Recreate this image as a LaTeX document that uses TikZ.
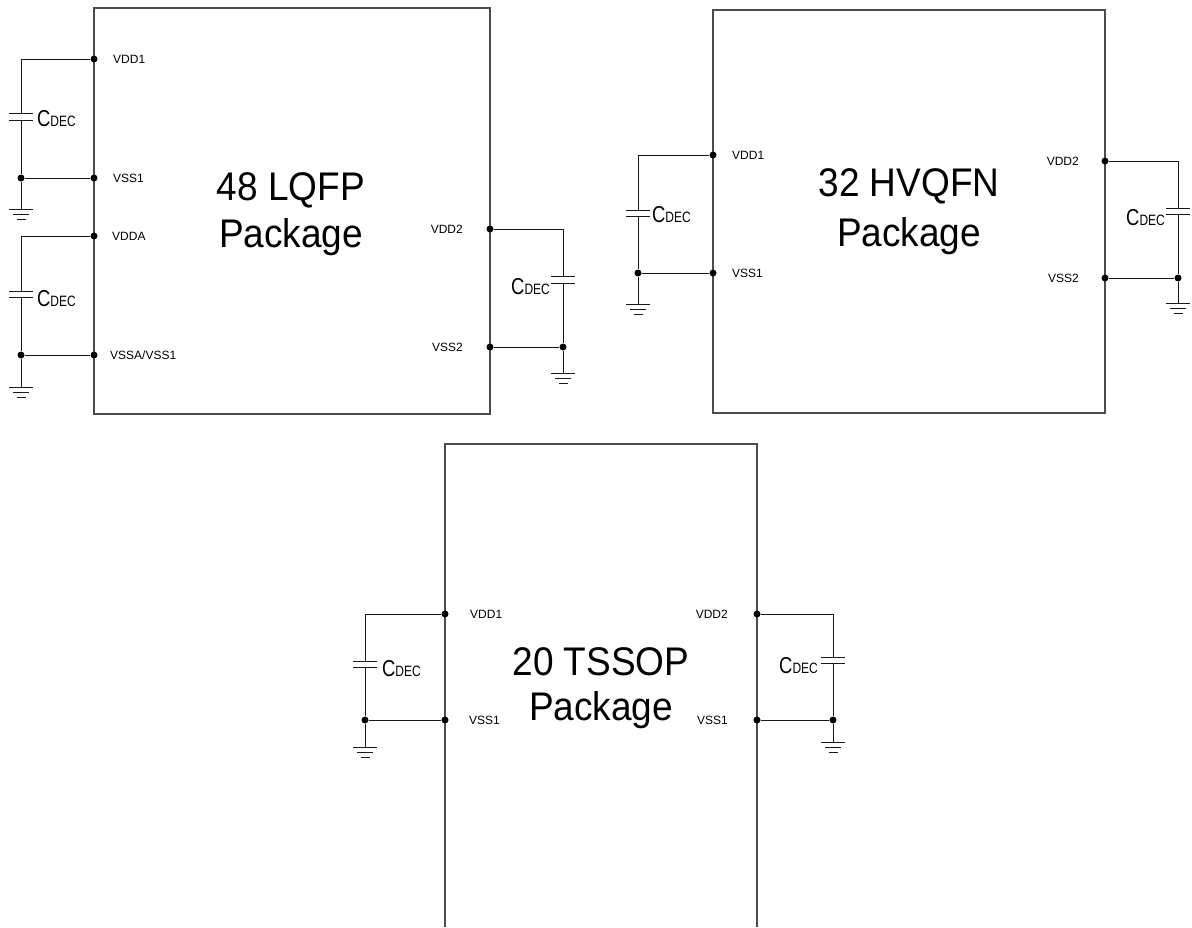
\documentclass[tikz,border=0pt]{standalone}
\usepackage{fontspec}
\setmainfont{Liberation Sans}
\newcommand\cdectext{{\fontsize{23}{23}\selectfont C}{\fontsize{15}{15}\selectfont DEC}}
\begin{document}
\begin{tikzpicture}[x=1pt,y=-1pt,
  box/.style={draw=black!70, line width=1.2pt},
  wire/.style={draw=black!90, line width=1pt},
  dot/.style={circle, fill=black, inner sep=0pt, minimum size=7pt},
  pin/.style={font=\fontsize{12}{12}\selectfont, inner sep=0pt},
  title/.style={font=\fontsize{37}{37}\selectfont, inner sep=0pt, anchor=base, yscale=1.08},
  cdec/.style={inner sep=0pt, xscale=0.8},
  capv/.pic={\draw[wire] (-12,0)--(12,0) (-12,6.5)--(12,6.5);},
  gnd/.pic={\draw[wire] (-12,0)--(12,0) (-8,5)--(8,5) (-4.5,10)--(4.5,10);}
]
\useasboundingbox (0,0) rectangle (1192,927);

% ---------------- Box 1 : 48 LQFP ----------------
\draw[box] (94,8) rectangle (490,414);
\node[title] (t1a) at (291,200) {48 LQFP};
\node[title] (t1b) at (291,247) {Package};

\node[dot] (a1) at (94,59) {};
\node[dot] (a2) at (94,178) {};
\node[dot] (a3) at (94,236) {};
\node[dot] (a4) at (94,355) {};
\node[dot] (a5) at (490,229) {};
\node[dot] (a6) at (490,347) {};
\node[dot] (ja2) at (21,178) {};
\node[dot] (ja4) at (21,355) {};
\node[dot] (ja6) at (563,347) {};

\node[pin, anchor=west] (l1) at (113,59) {VDD1};
\node[pin, anchor=west] (l2) at (113,178) {VSS1};
\node[pin, anchor=west] (l3) at (112,236) {VDDA};
\node[pin, anchor=west] (l4) at (110,355) {VSSA/VSS1};
\node[pin, anchor=east] (l5) at (463,229) {VDD2};
\node[pin, anchor=east] (l6) at (463,347) {VSS2};

% cap VDD1-VSS1
\coordinate (c1t) at (21,113.5);
\coordinate (c1b) at (21,120);
\draw[wire] (a1) -- (21,59) -- (c1t);
\pic at (c1t) {capv};
\draw[wire] (c1b) -- (ja2) -- (a2);
\coordinate (g1) at (21,209);
\draw[wire] (ja2) -- (g1);
\pic at (g1) {gnd};
\node[cdec, anchor=west] (k1) at (37,119) {\cdectext};

% cap VDDA-VSSA
\coordinate (c2t) at (21,291);
\coordinate (c2b) at (21,297.5);
\draw[wire] (a3) -- (21,236) -- (c2t);
\pic at (c2t) {capv};
\draw[wire] (c2b) -- (ja4) -- (a4);
\coordinate (g2) at (21,387);
\draw[wire] (ja4) -- (g2);
\pic at (g2) {gnd};
\node[cdec, anchor=west] (k2) at (37,299) {\cdectext};

% cap VDD2-VSS2
\coordinate (c3t) at (563,276.5);
\coordinate (c3b) at (563,283);
\draw[wire] (a5) -- (563,229) -- (c3t);
\pic at (c3t) {capv};
\draw[wire] (c3b) -- (ja6) -- (a6);
\coordinate (g3) at (563,373);
\draw[wire] (ja6) -- (g3);
\pic at (g3) {gnd};
\node[cdec, anchor=east] (k3) at (550,287) {\cdectext};

% ---------------- Box 2 : 32 HVQFN ----------------
\draw[box] (713,10) rectangle (1105,413);
\node[title] (t2a) at (909,196) {32 HVQFN};
\node[title] (t2b) at (909,246) {Package};

\node[dot] (b1) at (713,155) {};
\node[dot] (b2) at (713,273) {};
\node[dot] (b3) at (1105,161) {};
\node[dot] (b4) at (1105,278) {};
\node[dot] (jb2) at (638,273) {};
\node[dot] (jb4) at (1178,278) {};

\node[pin, anchor=west] (m1) at (732,155) {VDD1};
\node[pin, anchor=west] (m2) at (732,273) {VSS1};
\node[pin, anchor=east] (m3) at (1079,161) {VDD2};
\node[pin, anchor=east] (m4) at (1079,278) {VSS2};

\coordinate (c4t) at (638,210);
\coordinate (c4b) at (638,216.5);
\draw[wire] (b1) -- (638,155) -- (c4t);
\pic at (c4t) {capv};
\draw[wire] (c4b) -- (jb2) -- (b2);
\coordinate (g4) at (638,304);
\draw[wire] (jb2) -- (g4);
\pic at (g4) {gnd};
\node[cdec, anchor=west] (k4) at (652,215) {\cdectext};

\coordinate (c5t) at (1178,208);
\coordinate (c5b) at (1178,214.5);
\draw[wire] (b3) -- (1178,161) -- (c5t);
\pic at (c5t) {capv};
\draw[wire] (c5b) -- (jb4) -- (b4);
\coordinate (g5) at (1178,303);
\draw[wire] (jb4) -- (g5);
\pic at (g5) {gnd};
\node[cdec, anchor=east] (k5) at (1165,218) {\cdectext};

% ---------------- Box 3 : 20 TSSOP ----------------
\draw[box] (445,927) -- (445,444) -- (757,444) -- (757,927);
\node[title] (t3a) at (601,675) {20 TSSOP};
\node[title] (t3b) at (601,720) {Package};

\node[dot] (d1) at (445,614) {};
\node[dot] (d2) at (445,720) {};
\node[dot] (d3) at (757,614) {};
\node[dot] (d4) at (757,720) {};
\node[dot] (jd2) at (365,720) {};
\node[dot] (jd4) at (833,720) {};

\node[pin, anchor=west] (n1) at (470,614) {VDD1};
\node[pin, anchor=west] (n2) at (469,720) {VSS1};
\node[pin, anchor=east] (n3) at (728,614) {VDD2};
\node[pin, anchor=east] (n4) at (728,720) {VSS1};

\coordinate (c6t) at (365,661);
\coordinate (c6b) at (365,667.5);
\draw[wire] (d1) -- (365,614) -- (c6t);
\pic at (c6t) {capv};
\draw[wire] (c6b) -- (jd2) -- (d2);
\coordinate (g6) at (365,747);
\draw[wire] (jd2) -- (g6);
\pic at (g6) {gnd};
\node[cdec, anchor=west] (k6) at (382,669) {\cdectext};

\coordinate (c7t) at (833,657);
\coordinate (c7b) at (833,663.5);
\draw[wire] (d3) -- (833,614) -- (c7t);
\pic at (c7t) {capv};
\draw[wire] (c7b) -- (jd4) -- (d4);
\coordinate (g7) at (833,742);
\draw[wire] (jd4) -- (g7);
\pic at (g7) {gnd};
\node[cdec, anchor=east] (k7) at (818,666) {\cdectext};
\end{tikzpicture}
\end{document}
